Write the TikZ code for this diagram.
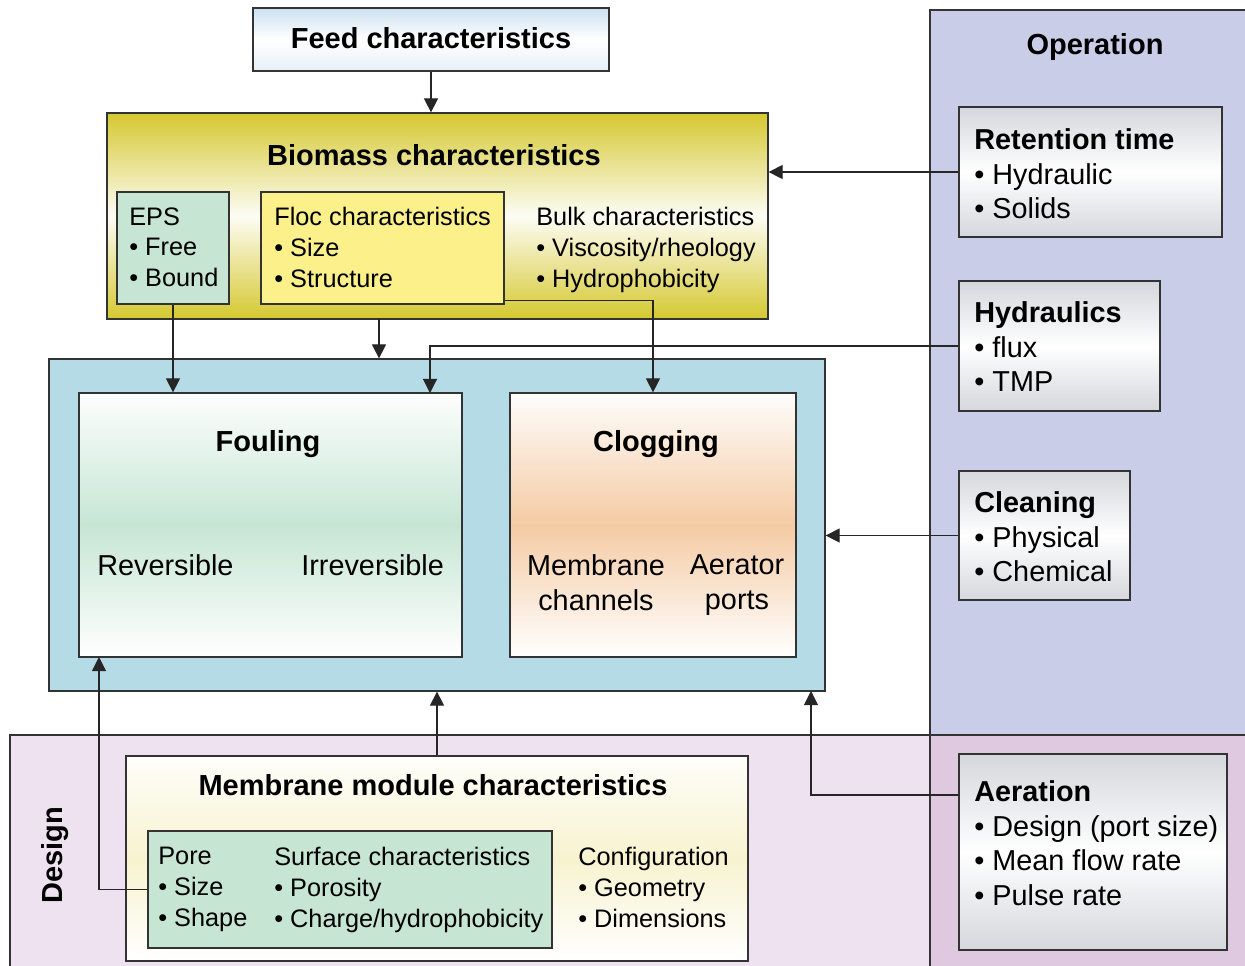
\documentclass[tikz,border=0pt]{standalone}
\usepackage{fontspec}
\setmainfont{Liberation Sans}
\usepackage{xcolor}
\usetikzlibrary{arrows.meta, fit}

\definecolor{feedblue}{HTML}{CCE1F0}
\definecolor{biomassyel}{HTML}{D5C82F}
\definecolor{epsgreen}{HTML}{C7E5D3}
\definecolor{flocyel}{HTML}{FBF08A}
\definecolor{outerblue}{HTML}{B5DCE6}
\definecolor{foulgreen}{HTML}{C6E6D4}
\definecolor{clogpeach}{HTML}{F4CBA4}
\definecolor{opblue}{HTML}{C9CDE8}
\definecolor{designpink}{HTML}{EEE1F0}
\definecolor{overlappink}{HTML}{DFC9E1}
\definecolor{boxgray}{HTML}{D4D7DC}
\definecolor{moduleyel}{HTML}{F7F3D0}

\newcommand{\bul}{\textbullet\ }

\begin{document}
\begin{tikzpicture}[x=0.02cm, y=-0.02cm,
  box/.style={rectangle, draw=black!80, line width=0.7pt, inner sep=0pt},
  graybox/.style={box, top color=boxgray, bottom color=boxgray, middle color=white},
  ttl/.style={font=\fontsize{16.5}{19.8}\selectfont\bfseries, inner sep=0pt, anchor=base},
  big/.style={font=\fontsize{16.4}{19.85}\selectfont, align=left, inner sep=0pt, anchor=north west},
  sml/.style={font=\fontsize{14.4}{17.6}\selectfont, align=left, inner sep=0pt, anchor=north west},
  arrow/.style={-{Triangle[width=8pt,length=8pt]}, line width=0.6pt, black!85}
]
\useasboundingbox (0,0) rectangle (1245,965);
\clip (0,0) rectangle (1245,965);

\fill[white] (0,0) rectangle (1245,965);
\draw[fill=opblue, draw=black!80, line width=0.7pt] (930,10) rectangle (1260,980);
\draw[fill=designpink, draw=black!80, line width=0.7pt] (10,735) rectangle (1260,980);
\draw[fill=overlappink, draw=black!80, line width=0.7pt] (930,735) rectangle (1260,980);

\node[box, top color=feedblue, bottom color=feedblue!50, middle color=white, fit={(253,8) (609,71)}] (fd) {};
\node[box, top color=biomassyel, bottom color=biomassyel, middle color=white!95!biomassyel, fit={(107,113) (768,319)}] (bm) {};
\node[box, fill=epsgreen, fit={(117,192) (229,304)}] (eps) {};
\node[box, fill=flocyel, fit={(261,192) (504,304)}] (flc) {};
\node[box, fill=outerblue, fit={(49,359) (825,691)}] (ob) {};
\node[box, top color=white!96!foulgreen, bottom color=white, middle color=foulgreen, fit={(79,393) (462,657)}] (fo) {};
\node[box, top color=white!96!clogpeach, bottom color=white, middle color=clogpeach, fit={(510,393) (796,657)}] (cl) {};
\node[graybox, fit={(959,107) (1222,237)}] (rt) {};
\node[graybox, fit={(959,281) (1160,411)}] (hy) {};
\node[graybox, fit={(959,471) (1130,600)}] (cn) {};
\node[graybox, fit={(959,754) (1227,950)}] (ae) {};
\node[box, top color=white!90!moduleyel, bottom color=white, middle color=moduleyel, fit={(126,756) (748,961)}] (mm) {};
\node[box, fill=epsgreen, fit={(148,831) (552,948)}] (pg) {};

\coordinate (b1) at (379,319);
\coordinate (f1) at (430,393);
\coordinate (f2) at (99,657);
\coordinate (a1) at (959,795);
\coordinate (o1) at (811,691);

\draw[arrow] (fd.south) -- (fd.south |- bm.north);
\draw[arrow] (eps.south) -- (eps.south |- fo.north);
\draw[arrow] (b1) -- (b1 |- ob.north);
\draw[arrow] ([yshift=2.3pt]flc.south east) -| (cl.north);
\draw[arrow] (rt.west) -- (rt.west -| bm.east);
\draw[arrow] (hy.west) -| (f1);
\draw[arrow] (cn.west) -- (cn.west -| ob.east);
\draw[arrow] (mm.north) -- (mm.north |- ob.south);
\draw[arrow] (a1) -| (o1);
\draw[arrow] (pg.west) -| (f2);

\node[ttl] (fdt) at (431,48) {Feed characteristics};
\node[ttl] (bmt) at (434,165) {Biomass characteristics};
\node[sml] (epst) at (129,207) {EPS\\\bul Free\\\bul Bound};
\node[sml] (flct) at (274,207) {Floc characteristics\\\bul Size\\\bul Structure};
\node[sml] (blkt) at (536,207) {Bulk characteristics\\\bul Viscosity/rheology\\\bul Hydrophobicity};
\node[ttl] (fot) at (268,451) {Fouling};
\node[ttl] (clt) at (656,451) {Clogging};
\node[big, anchor=base west] (rev) at (97,575) {Reversible};
\node[big, anchor=base west] (irr) at (301,575) {Irreversible};
\node[big, anchor=north, align=center] (mch) at (596,554) {Membrane\\channels};
\node[big, anchor=north, align=center] (apt) at (737,554) {Aerator\\ports};
\node[ttl] (opt) at (1095,54) {Operation};
\node[big] (rtt) at (974,128) {\textbf{Retention time}\\\bul Hydraulic\\\bul Solids};
\node[big] (hyt) at (974,301) {\textbf{Hydraulics}\\\bul flux\\\bul TMP};
\node[big] (cnt) at (974,491) {\textbf{Cleaning}\\\bul Physical\\\bul Chemical};
\node[big] (aet) at (974,780) {\textbf{Aeration}\\\bul Design (port size)\\\bul Mean flow rate\\\bul Pulse rate};
\node[ttl, anchor=center, rotate=90] (dst) at (55,855) {Design};
\node[ttl] (mmt) at (433,795) {Membrane module characteristics};
\node[sml] (prt) at (158,847) {Pore\\\bul Size\\\bul Shape};
\node[sml] (sft) at (274,847) {Surface characteristics\\\bul Porosity\\\bul Charge/hydrophobicity};
\node[sml] (cft) at (578,847) {Configuration\\\bul Geometry\\\bul Dimensions};
\end{tikzpicture}
\end{document}
